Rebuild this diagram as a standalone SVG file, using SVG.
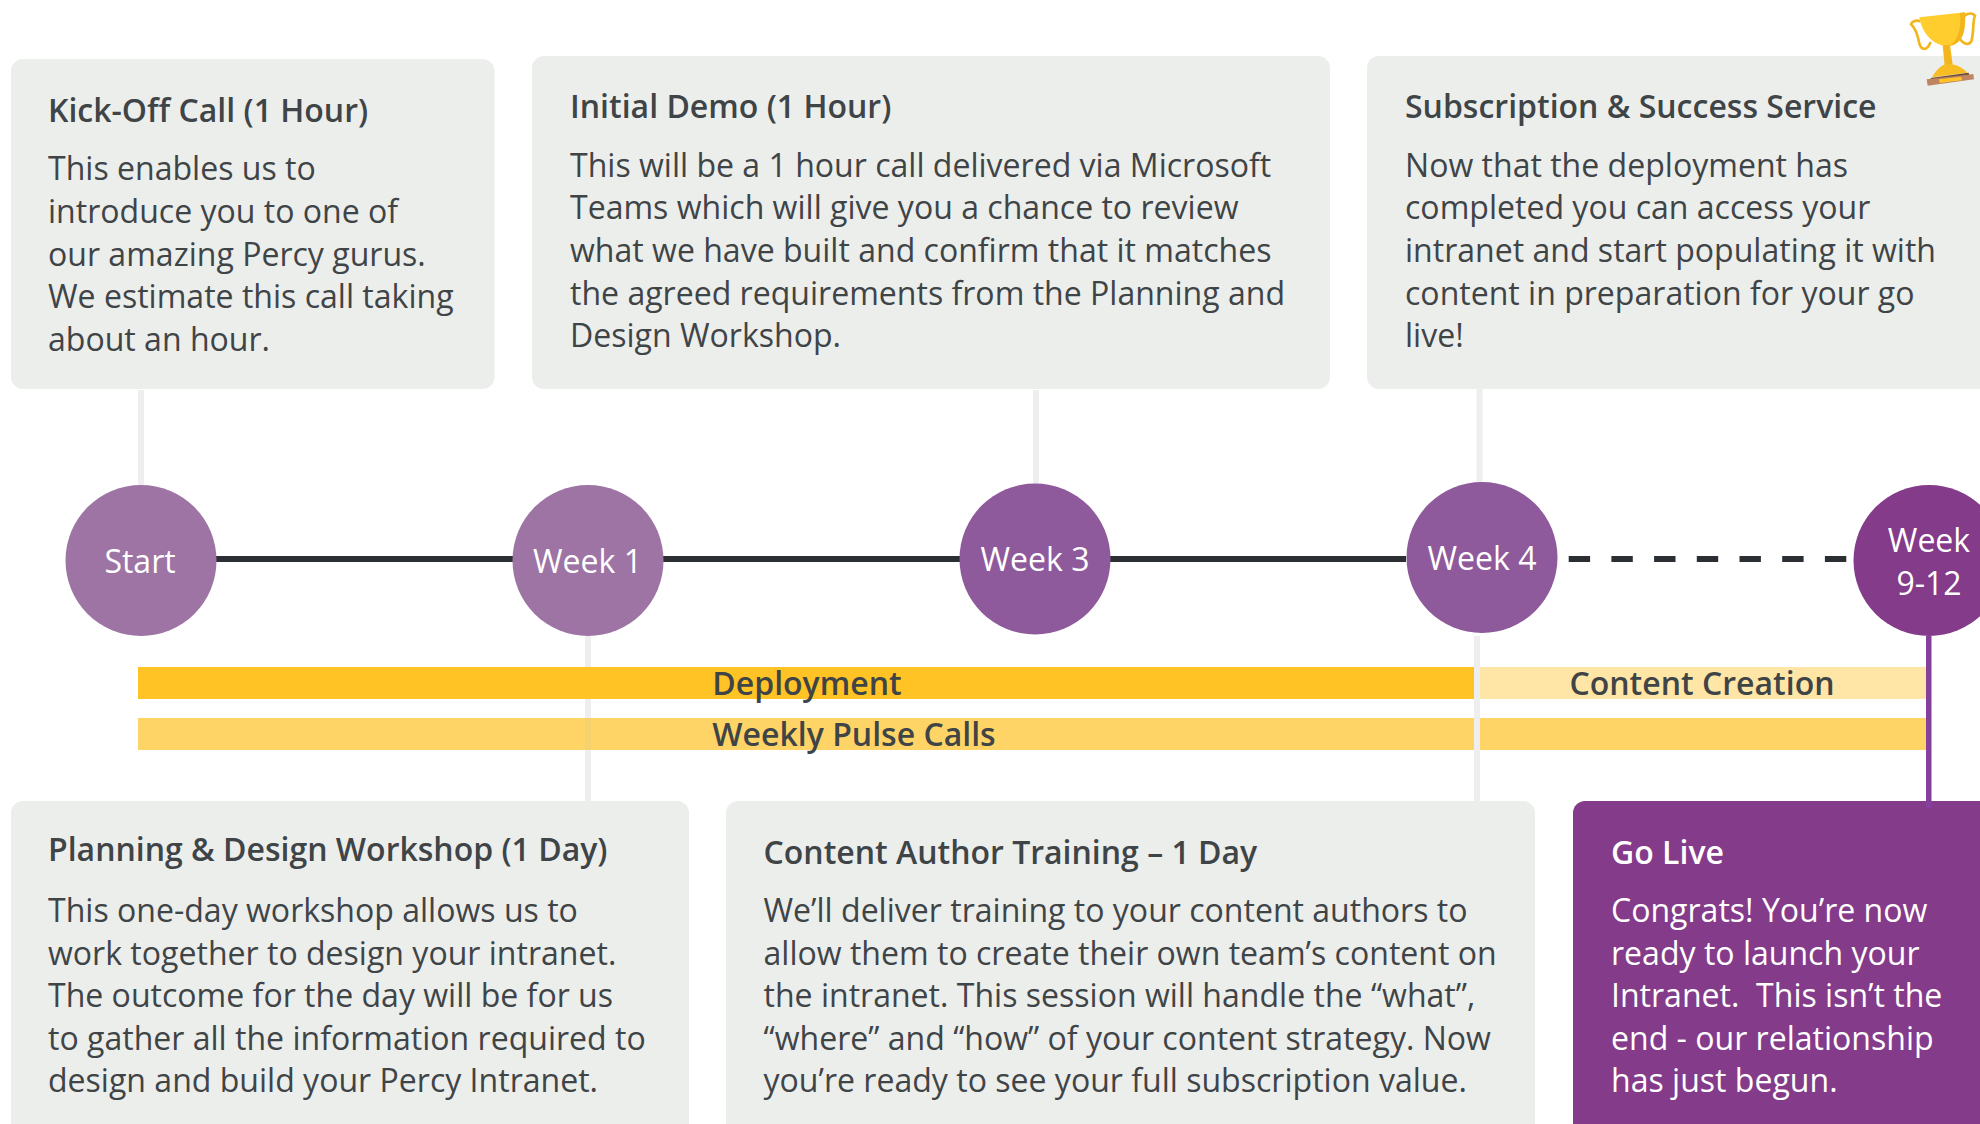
<svg xmlns="http://www.w3.org/2000/svg" width="1980" height="1124" viewBox="0 0 1980 1124">
<style>
text{font-family:"Open Sans","Noto Sans","DejaVu Sans",sans-serif}
.box{fill:#eceeec}
.t{font-size:32px;font-weight:600;fill:#3f4447}
.b{font-size:32.06px;fill:#3f4447}
.n{font-size:32px;fill:#fff;text-anchor:middle}
.v{fill:#eeeeee}
.bar{font-size:32px;font-weight:600;fill:#3f4447;text-anchor:middle}
.wt{fill:#fff}
</style>
<rect width="1980" height="1124" fill="#fff"/>
<g id="connectors">
<rect class="v" x="138" y="390" width="6" height="96"/>
<rect class="v" x="585" y="636" width="6" height="166"/>
<rect class="v" x="1033" y="390" width="6" height="95"/>
<rect class="v" x="1476.500" y="389" width="6" height="95"/>
<path d="M216 559H1406" stroke="#2b2e33" stroke-width="6" fill="none"/>
<path d="M1568.700 559H1847" stroke="#2b2e33" stroke-width="6" stroke-dasharray="21.400 21.300" fill="none"/>
</g>
<g id="bars">
<rect x="138" y="667" width="1336" height="32" fill="#ffc325"/>
<rect x="1480" y="667" width="446" height="32" fill="#ffe5a6"/>
<rect x="138" y="718" width="1788" height="32" fill="#ffd466"/>
<rect class="v" x="1474" y="636" width="6" height="166"/>
<rect x="585" y="667" width="6" height="32" fill="#ffc325"/>
<rect x="585" y="718" width="6" height="32" fill="#f6d26f"/>
<text class="bar" x="807" y="695">Deployment</text>
<text class="bar" x="1702" y="695">Content Creation</text>
<text class="bar" x="854" y="746">Weekly Pulse Calls</text>
</g>
<rect x="1926" y="636" width="5.500" height="172" fill="#84409a"/>
<g id="node-start"><circle cx="141" cy="560.500" r="75.500" fill="#9d74a4"/><text class="n" x="140" y="573">Start</text></g>
<g id="node-week1"><circle cx="588" cy="560.500" r="75.500" fill="#9d74a4"/><text class="n" x="587.500" y="573">Week 1</text></g>
<g id="node-week3"><circle cx="1035" cy="559" r="75.500" fill="#8f5a9c"/><text class="n" x="1035" y="571">Week 3</text></g>
<g id="node-week4"><circle cx="1482" cy="557.500" r="75.500" fill="#8f5a9c"/><text class="n" x="1482" y="570">Week 4</text></g>
<g id="node-week9-12"><circle cx="1929" cy="560.500" r="75.500" fill="#833b8a"/><text class="n" x="1929" y="552">Week</text><text class="n" x="1929" y="595">9-12</text></g>
<g id="box-kickoff"><rect class="box" x="11" y="59" width="483.500" height="330" rx="12"/>
<text class="t" x="48" y="122">Kick-Off Call (1 Hour)</text>
<text class="b" x="48" y="180">This enables us to</text>
<text class="b" x="48" y="223">introduce you to one of</text>
<text class="b" x="48" y="266">our amazing Percy gurus.</text>
<text class="b" x="48" y="308">We estimate this call taking</text>
<text class="b" x="48" y="351">about an hour.</text></g>
<g id="box-demo"><rect class="box" x="532" y="56" width="798" height="333" rx="12"/>
<text class="t" x="570" y="118">Initial Demo (1 Hour)</text>
<text class="b" x="570" y="176.500">This will be a 1 hour call delivered via Microsoft</text>
<text class="b" x="570" y="218.500">Teams which will give you a chance to review</text>
<text class="b" x="570" y="261.500">what we have built and confirm that it matches</text>
<text class="b" x="570" y="304.500">the agreed requirements from the Planning and</text>
<text class="b" x="570" y="346.500">Design Workshop.</text></g>
<g id="box-subscription"><rect class="box" x="1367" y="56" width="640" height="333" rx="12"/>
<text class="t" x="1405" y="118">Subscription &amp; Success Service</text>
<text class="b" x="1405" y="176.500">Now that the deployment has</text>
<text class="b" x="1405" y="218.500">completed you can access your</text>
<text class="b" x="1405" y="261.500">intranet and start populating it with</text>
<text class="b" x="1405" y="304.500">content in preparation for your go</text>
<text class="b" x="1405" y="346.500">live!</text></g>
<g id="box-planning"><rect class="box" x="11" y="801" width="678" height="340" rx="12"/>
<text class="t" x="48" y="861">Planning &amp; Design Workshop (1 Day)</text>
<text class="b" x="48" y="921.500">This one-day workshop allows us to</text>
<text class="b" x="48" y="964.500">work together to design your intranet.</text>
<text class="b" x="48" y="1007">The outcome for the day will be for us</text>
<text class="b" x="48" y="1049.500">to gather all the information required to</text>
<text class="b" x="48" y="1092">design and build your Percy Intranet.</text></g>
<g id="box-training"><rect class="box" x="726" y="801" width="809" height="340" rx="12"/>
<text class="t" x="763.500" y="864">Content Author Training – 1 Day</text>
<text class="b" x="763.500" y="921.500">We’ll deliver training to your content authors to</text>
<text class="b" x="763.500" y="964.500">allow them to create their own team’s content on</text>
<text class="b" x="763.500" y="1007">the intranet. This session will handle the “what”,</text>
<text class="b" x="763.500" y="1049.500">“where” and “how” of your content strategy. Now</text>
<text class="b" x="763.500" y="1092">you’re ready to see your full subscription value.</text></g>
<g id="box-golive"><rect x="1573" y="801" width="440" height="340" rx="12" fill="#833b8a"/>
<rect x="1926" y="801" width="5.500" height="7" fill="#84409a"/>
<text class="t" x="1611" y="864" style="fill:#fff">Go Live</text>
<text class="b" x="1611" y="921.500" style="fill:#fff">Congrats! You’re now</text>
<text class="b" x="1611" y="964.500" style="fill:#fff">ready to launch your</text>
<text class="b" x="1611" y="1007" style="fill:#fff">Intranet.&#160; This isn’t the</text>
<text class="b" x="1611" y="1049.500" style="fill:#fff">end - our relationship</text>
<text class="b" x="1611" y="1092" style="fill:#fff">has just begun.</text></g>
<g id="trophy" transform="translate(1800 0) scale(.3333)">
<path d="M362 64C346 58 334 66 333 73C344 82 352 100 358 130C364 150 380 156 392 126M492 48C508 38 520 40 525 47C518 60 522 100 514 124C504 140 484 130 474 104" fill="none" stroke="#f3b51c" stroke-width="8"/>
<path d="M358 52L495 37C498 90 490 130 450 138C410 142 368 110 358 52Z" fill="#ffcd2e"/>
<path d="M480 40L495 37C498 90 490 130 450 138C476 120 484 80 480 40Z" fill="#f3b51c"/>
<path d="M428 136L450 134L458 194L434 196Z" fill="#f3b51c"/>
<path d="M396 232C410 205 430 192 444 192C470 192 490 205 502 218Z" fill="#f7bd22"/>
<path d="M392 234L506 218L510 232L394 248Z" fill="#6b4a34"/>
<path d="M380 238L520 222L522 238L383 257Z" fill="#bd8560"/>
<path d="M417 238L484 230L486 241L419 249Z" fill="#ffc325"/>
</g>
</svg>
